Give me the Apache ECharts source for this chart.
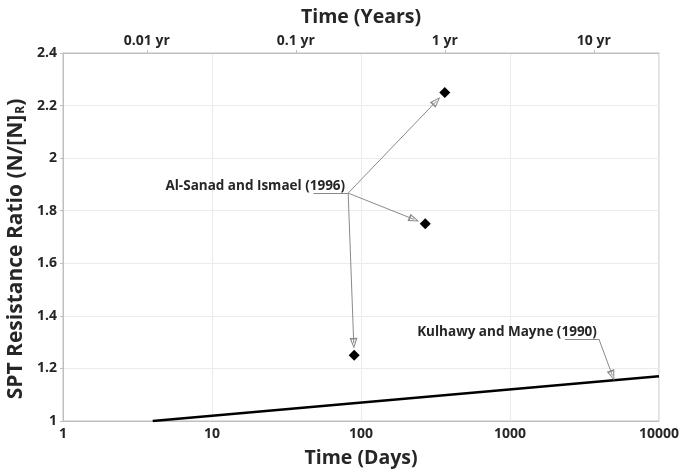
<!DOCTYPE html>
<html>
<head>
<meta charset="utf-8">
<script src="https://cdn.jsdelivr.net/npm/echarts@6/dist/echarts.min.js"></script>
<style>
  html, body { margin: 0; padding: 0; background: #ffffff; }
  #c { width: 681px; height: 470px; }
</style>
</head>
<body>
<div id="c"></div>
<script>
// Time axis (days, log scale) and secondary time axis in years
const dayMin = 1;
const dayMax = 10000;
const daysPerYear = 365;
const yearTickLabels = [0.01, 0.1, 1, 10];

// SPT resistance ratio axis
const ratioMin = 1;
const ratioMax = 2.4;
const ratioStep = 0.2;

// Kulhawy and Mayne (1990) trend
const kulhawyDays = [4, 10000];
const kulhawyRatio = [1.0, 1.17];

// Al-Sanad and Ismael (1996) measurements
const alSanadDays = [90, 270, 365];
const alSanadRatio = [1.25, 1.75, 2.25];

// Callout anchors, in data units (days, ratio)
const alSanadLeader = [[48, 1.867], [82, 1.867]];
const kulhawyLeader = [[2340, 1.312], [3950, 1.312]];
const kulhawyTargetDay = 5000;

const FONT = '"Open Sans", Lato, sans-serif';
const TEXT = '#262626';
const AXIS = '#bfbfbf';
const GRIDLINE = '#ebebeb';
const ARROW = '#8a8a8a';
// hollow arrow head (outer triangle with an inner hole)
const HOLLOW_HEAD = 'path://M0,0L10,20L-10,20Z M0,5L-5.5,17L5.5,17Z';

const kulhawyData = kulhawyDays.map((d, i) => [d, kulhawyRatio[i]]);
const alSanadData = alSanadDays.map((d, i) => [d, alSanadRatio[i]]);

const chart = echarts.init(document.getElementById('c'), null, { renderer: 'canvas' });

const option = {
  animation: false,
  backgroundColor: '#ffffff',
  grid: {
    left: 63, right: 22, top: 53, bottom: 49,
    containLabel: false, outerBoundsMode: 'none',
    show: true, borderColor: AXIS, borderWidth: 1, backgroundColor: 'transparent'
  },
  xAxis: [
    {
      type: 'log', logBase: 10, min: dayMin, max: dayMax,
      position: 'bottom',
      name: 'Time (Days)', nameLocation: 'middle', nameGap: 27,
      nameTextStyle: { fontFamily: FONT, fontWeight: 'bold', fontSize: 19.5, color: TEXT },
      axisLine: { show: true, lineStyle: { color: AXIS, width: 1 } },
      axisTick: { show: false },
      axisLabel: {
        fontFamily: FONT, fontWeight: 'bold', fontSize: 14, color: TEXT, margin: 6,
        formatter: v => String(Math.round(v))
      },
      splitLine: { show: true, lineStyle: { color: GRIDLINE, width: 1 } },
      minorTick: { show: false }, minorSplitLine: { show: false }
    },
    {
      type: 'log', logBase: 10,
      min: dayMin / daysPerYear, max: dayMax / daysPerYear,
      position: 'top',
      name: 'Time (Years)', nameLocation: 'middle', nameGap: 26,
      nameTextStyle: { fontFamily: FONT, fontWeight: 'bold', fontSize: 19.5, color: TEXT },
      axisLine: { show: true, lineStyle: { color: AXIS, width: 1 } },
      axisTick: { show: true, length: 3, inside: false, lineStyle: { color: AXIS } },
      axisLabel: {
        fontFamily: FONT, fontWeight: 'bold', fontSize: 14, color: TEXT, margin: 5,
        showMinLabel: false, showMaxLabel: false,
        formatter: function (v) {
          const hit = yearTickLabels.find(t => Math.abs(Math.log10(v) - Math.log10(t)) < 1e-6);
          return hit === undefined ? '' : hit + ' yr';
        }
      },
      splitLine: { show: false }
    }
  ],
  yAxis: {
    type: 'value', min: ratioMin, max: ratioMax, interval: ratioStep,
    name: 'SPT Resistance Ratio (N/[N]{s|R})',
    nameLocation: 'middle', nameGap: 32, nameRotate: 90,
    nameTextStyle: {
      fontFamily: FONT, fontWeight: 'bold', fontSize: 21, color: TEXT,
      padding: [0, 24, 0, 0],
      rich: { s: { fontFamily: FONT, fontWeight: 'bold', fontSize: 12, color: TEXT, verticalAlign: 'bottom', padding: [0, 0, 0, 1] } }
    },
    axisLine: { show: true, lineStyle: { color: AXIS, width: 1 } },
    axisTick: { show: true, length: 3, lineStyle: { color: AXIS } },
    axisLabel: { fontFamily: FONT, fontWeight: 'bold', fontSize: 14, color: TEXT, margin: 6 },
    splitLine: { show: true, lineStyle: { color: GRIDLINE, width: 1 } }
  },
  series: [
    {
      name: 'Kulhawy and Mayne (1990)',
      type: 'line', xAxisIndex: 0, yAxisIndex: 0,
      data: kulhawyData,
      symbol: 'none', silent: true,
      lineStyle: { color: '#000000', width: 2.5 },
      z: 2
    },
    {
      name: 'Al-Sanad and Ismael (1996)',
      type: 'scatter', xAxisIndex: 0, yAxisIndex: 0,
      data: alSanadData,
      symbol: 'diamond', symbolSize: 11,
      itemStyle: { color: '#000000', opacity: 1 },
      silent: true,
      z: 5
    }
  ]
};

chart.setOption(option);

// Callouts: leader lines end a few pixels short of their targets
const toPx = p => chart.convertToPixel({ seriesIndex: 1 }, p);
const toData = p => chart.convertFromPixel({ seriesIndex: 1 }, p);
function pullBack(from, to, gap) {
  const a = toPx(from), b = toPx(to);
  const dx = b[0] - a[0], dy = b[1] - a[1];
  const len = Math.hypot(dx, dy);
  return toData([b[0] - dx / len * gap, b[1] - dy / len * gap]);
}

// point on the Kulhawy line at the target day (linear in log-time)
const lg = Math.log10;
const kFrac = (lg(kulhawyTargetDay) - lg(kulhawyDays[0])) / (lg(kulhawyDays[1]) - lg(kulhawyDays[0]));
const kulhawyTarget = [kulhawyTargetDay, kulhawyRatio[0] + kFrac * (kulhawyRatio[1] - kulhawyRatio[0])];

const plain = c => ({ coord: c, symbol: 'none' });
const arrowEnd = c => ({ coord: c, symbol: HOLLOW_HEAD, symbolSize: [8, 11] });

const alAnchor = alSanadLeader[1];
const kAnchor = kulhawyLeader[1];

const calloutLines = [
  [plain(alSanadLeader[0]), plain(alAnchor)],
  [plain(kulhawyLeader[0]), plain(kAnchor)],
  [plain(kAnchor), arrowEnd(pullBack(kAnchor, kulhawyTarget, 5))]
].concat(alSanadData.map(p => [plain(alAnchor), arrowEnd(pullBack(alAnchor, p, 12))]));

const alPx = toPx(alAnchor);
const kPx = toPx(kAnchor);

chart.setOption({
  series: [{
    markLine: {
      silent: true,
      animation: false,
      symbol: ['none', 'none'],
      label: { show: false },
      lineStyle: { color: ARROW, width: 1, type: 'solid' },
      emphasis: { disabled: true },
      data: calloutLines
    }
  }],
  graphic: [
    {
      type: 'text', silent: true,
      x: alPx[0] - 3, y: alPx[1] - 7,
      style: {
        text: 'Al-Sanad and Ismael (1996)', fill: TEXT,
        font: 'bold 13.5px ' + FONT, align: 'right', verticalAlign: 'middle'
      }
    },
    {
      type: 'text', silent: true,
      x: kPx[0] - 2, y: kPx[1] - 7,
      style: {
        text: 'Kulhawy and Mayne (1990)', fill: TEXT,
        font: 'bold 13.5px ' + FONT, align: 'right', verticalAlign: 'middle'
      }
    }
  ]
});
</script>
</body>
</html>
